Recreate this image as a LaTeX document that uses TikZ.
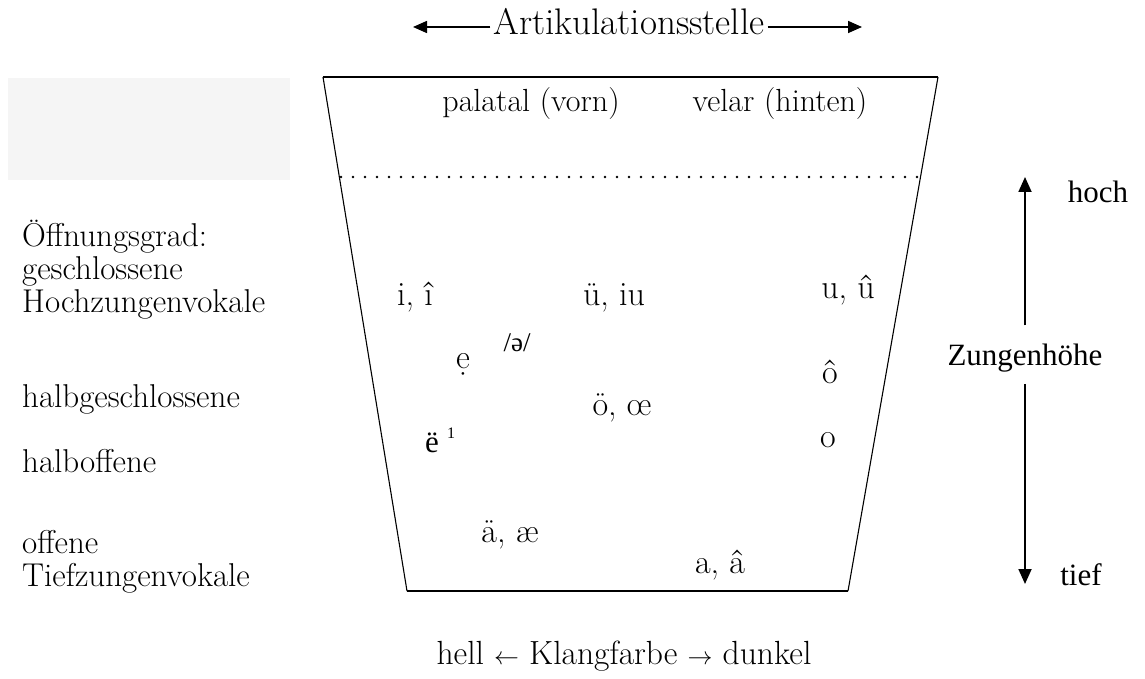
\documentclass[tikz,border=0pt]{standalone}
\usepackage{fontspec}
\newfontfamily\timesfont{Liberation Serif}
\usetikzlibrary{arrows.meta,positioning}
\tikzset{
    vowel/.style = {inner sep=0pt, anchor=base, font=\fontsize{34}{38}\selectfont},
    rowname/.style = {inner sep=0pt, anchor=base west, font=\fontsize{33}{38}\selectfont},
    heading/.style = {inner xsep=3pt, inner ysep=0pt, anchor=base, font=\fontsize{37}{42}\selectfont},
    tnr/.style = {inner sep=0pt, anchor=base, font=\timesfont\fontsize{31}{36}\selectfont},
    axis/.style = {line width=1.8pt, -{Triangle[length=15pt,width=13pt]}},
    headarrow/.style = {line width=1.6pt, -{Triangle[length=14pt,width=12pt]}},
    edge/.style = {line width=1.1pt},
    rim/.style = {line width=2.2pt},
    dotline/.style = {line width=2.6pt, line cap=round, dash pattern=on 0pt off 12pt}
}

\begin{document}
\begin{tikzpicture}[x=1pt, y=-1pt]
    \useasboundingbox (0,0) rectangle (1145,679);

    % grey patch top left
    \fill[black!4] (8,78) rectangle (290,180);

    % trapezoid
    \coordinate (tl) at (323,77);
    \coordinate (tr) at (938,77);
    \coordinate (bl) at (407,591);
    \coordinate (br) at (848,591);
    \coordinate (dotL) at (341,177);
    \coordinate (dotR) at (919,177);
    \draw[edge] (tl) -- (bl);
    \draw[edge] (tr) -- (br);
    \draw[rim] (tl) -- (tr);
    \draw[rim] (bl) -- (br);
    \draw[dotline] (dotL) -- (dotR);

    % heading
    \node[heading] (art) at (629,35) {Artikulationsstelle};
    \coordinate (artL) at (413,27);
    \coordinate (artR) at (862,27);
    \draw[headarrow] ([yshift=8pt]art.base west) -- (artL);
    \draw[headarrow] ([yshift=8pt]art.base east) -- (artR);

    \node[vowel, font=\fontsize{32}{36}\selectfont] (palatal) at (531,112) {palatal (vorn)};
    \node[vowel, font=\fontsize{32}{36}\selectfont] (velar) at (780,112) {velar (hinten)};

    % rows on the left
    \node[rowname] (grad) at (22,246) {Öffnungsgrad:};
    \node[rowname] (geschl) at (22,279) {geschlossene};
    \node[rowname] (hochz) at (22,312) {Hochzungenvokale};
    \node[rowname] (halbg) at (22,407) {halbgeschlossene};
    \node[rowname] (halbo) at (22,472) {halboffene};
    \node[rowname] (offen) at (22,553) {offene};
    \node[rowname] (tiefz) at (22,586) {Tiefzungenvokale};

    % vowels
    \node[vowel] (i) at (415,305) {i, î};
    \node[vowel] (ue) at (614,305) {ü, iu};
    \node[vowel] (u) at (848,298) {u, û};
    \node[vowel] (edot) at (463,368) {ẹ};
    \node[tnr, font=\timesfont\fontsize{27}{30}\selectfont] (schwa) at (517,351) {/ə/};
    \node[vowel] (ocirc) at (830,383) {ô};
    \node[vowel] (oe) at (622,415) {ö, œ};
    \node[tnr, anchor=base west] (euml) at (425,452) {ë};
    \node[tnr, anchor=base west, font=\timesfont\fontsize{16}{18}\selectfont] (one) at (447,438) {1};
    \node[vowel] (o) at (828,447) {o};
    \node[vowel] (ae) at (510,542) {ä, æ};
    \node[vowel] (a) at (720,573) {a, â};

    % tongue height
    \node[tnr] (hoch) at (1098,202) {hoch};
    \node[tnr] (tief) at (1081,585) {tief};
    \node[tnr, inner ysep=12pt] (zh) at (1025,365) {Zungenhöhe};
    \coordinate (hochTip) at (1025,177);
    \coordinate (tiefTip) at (1025,584);
    \draw[axis, shorten <=6pt] (zh.north -| hochTip) -- (hochTip);
    \draw[axis] (zh.south -| tiefTip) -- (tiefTip);

    \node[vowel, font=\fontsize{33.5}{38}\selectfont] (klang) at (624,664) {hell $\leftarrow$ Klangfarbe $\rightarrow$ dunkel};
\end{tikzpicture}
\end{document}
